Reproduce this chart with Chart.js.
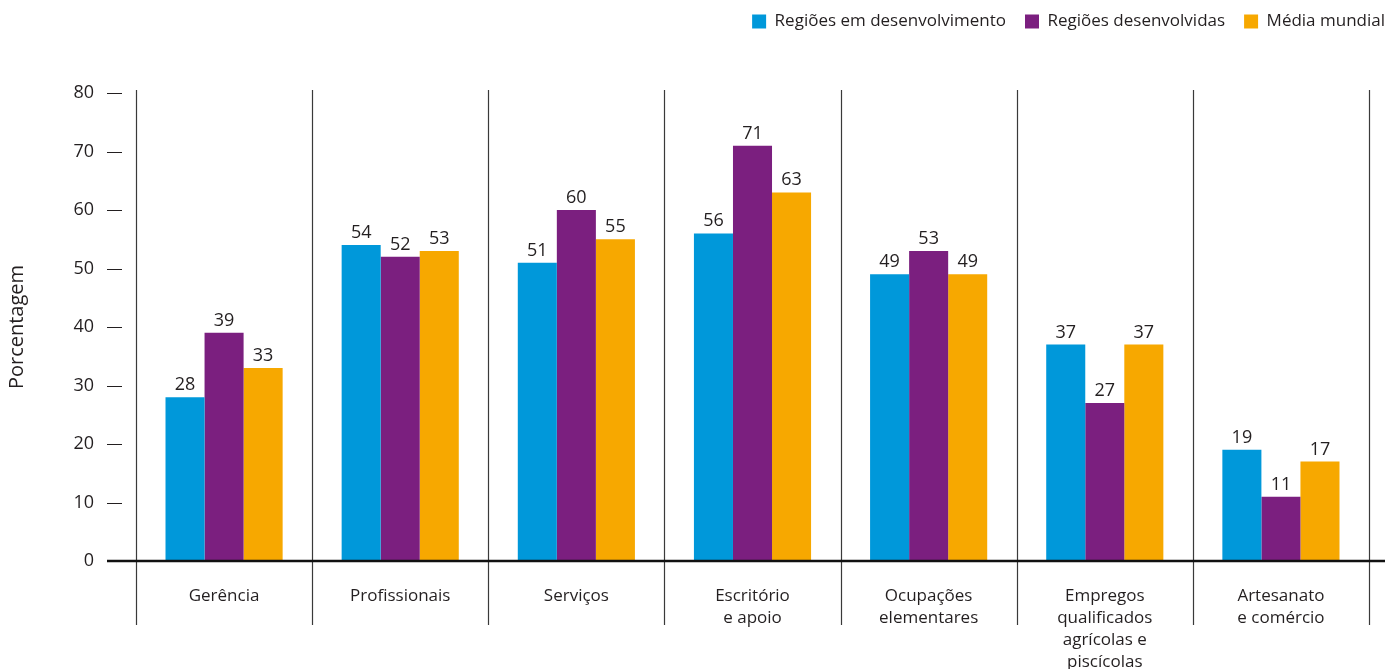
<!DOCTYPE html>
<html>
<head>
<meta charset="utf-8">
<script src="https://cdn.jsdelivr.net/npm/chart.js@4.4.1/dist/chart.umd.min.js"></script>
<style>
  html, body { margin: 0; padding: 0; background: #fff; }
  #wrap { width: 1399px; height: 669px; position: relative; }
</style>
</head>
<body>
<div id="wrap"><canvas id="c"></canvas></div>
<script>
// Occupation groups (multi-line labels)
const categories = [
  ['Gerência'],
  ['Profissionais'],
  ['Serviços'],
  ['Escritório', 'e apoio'],
  ['Ocupações', 'elementares'],
  ['Empregos', 'qualificados', 'agrícolas e', 'piscícolas'],
  ['Artesanato', 'e comércio']
];
const seriesNames = ['Regiões em desenvolvimento', 'Regiões desenvolvidas', 'Média mundial'];
const developingRegions = [28, 54, 51, 56, 49, 37, 19];
const developedRegions  = [39, 52, 60, 71, 53, 27, 11];
const worldAverage      = [33, 53, 55, 63, 49, 37, 17];
const yTicks = [0, 10, 20, 30, 40, 50, 60, 70, 80];
const yTitle = 'Porcentagem';

const seriesColors = ['#0098DA', '#7B1F7F', '#F7A800'];
const FONT = "'Open Sans', 'DejaVu Sans', sans-serif";
const TEXT = '#231F20';

// Category separators, y tick marks, heavy zero line and value labels
const decorations = {
  id: 'decorations',
  beforeInit(chart) {
    const legend = chart.legend;
    const fit = legend.fit;
    legend.fit = function () {
      fit.call(this);
      this.height = 93;
    };
  },
  afterLayout(chart) {
    const lg = chart.legend;
    const dx = chart.chartArea.right + 16 + lg.options.labels.padding - lg.right;
    lg.left += dx;
    lg.right += dx;
    lg.top -= 6;
  },
  beforeDatasetsDraw(chart) {
    const { ctx, chartArea, scales } = chart;
    const xs = scales.x, ys = scales.y;
    const step = xs.getPixelForValue(1) - xs.getPixelForValue(0);
    ctx.save();
    ctx.strokeStyle = '#3a3a3a';
    ctx.lineWidth = 1.2;
    for (let i = 0; i <= categories.length; i++) {
      const x = Math.round(xs.getPixelForValue(i) - step / 2) + 0.5;
      ctx.beginPath();
      ctx.moveTo(x, chartArea.top - 3);
      ctx.lineTo(x, chartArea.bottom + 64);
      ctx.stroke();
    }
    // y tick marks, set off from the plot
    ctx.strokeStyle = TEXT;
    ctx.lineWidth = 1;
    yTicks.forEach(v => {
      if (v === 0) return;
      const y = Math.round(ys.getPixelForValue(v)) + 0.5;
      ctx.beginPath();
      ctx.moveTo(chartArea.left - 29, y);
      ctx.lineTo(chartArea.left - 14, y);
      ctx.stroke();
    });
    ctx.restore();
  },
  afterDatasetsDraw(chart) {
    const { ctx, chartArea, scales } = chart;
    const ys = scales.y;
    ctx.save();
    // baseline
    const y0 = ys.getPixelForValue(0);
    ctx.strokeStyle = '#111';
    ctx.lineWidth = 2.6;
    ctx.beginPath();
    ctx.moveTo(chartArea.left - 29, y0);
    ctx.lineTo(chartArea.right + 16, y0);
    ctx.stroke();
    // value labels
    ctx.fillStyle = TEXT;
    ctx.font = '18px ' + FONT;
    ctx.textAlign = 'center';
    ctx.textBaseline = 'alphabetic';
    chart.data.datasets.forEach((ds, di) => {
      const meta = chart.getDatasetMeta(di);
      meta.data.forEach((bar, i) => {
        ctx.fillText(String(ds.data[i]), bar.x, bar.y - 7);
      });
    });
    ctx.restore();
  }
};

new Chart(document.getElementById('c'), {
  type: 'bar',
  data: {
    labels: categories,
    datasets: [
      { label: seriesNames[0], data: developingRegions, backgroundColor: seriesColors[0] },
      { label: seriesNames[1], data: developedRegions,  backgroundColor: seriesColors[1] },
      { label: seriesNames[2], data: worldAverage,      backgroundColor: seriesColors[2] }
    ]
  },
  options: {
    responsive: true,
    maintainAspectRatio: false,
    animation: false,
    layout: { padding: { left: 0, right: 30, top: 0, bottom: 0 } },
    datasets: {
      bar: { categoryPercentage: 0.665, barPercentage: 1, borderWidth: 0 }
    },
    plugins: {
      legend: {
        position: 'top',
        align: 'end',
        labels: {
          boxWidth: 14,
          boxHeight: 14,
          padding: 19,
          color: TEXT,
          font: { family: FONT, size: 17 }
        }
      },
      tooltip: { enabled: false }
    },
    scales: {
      x: {
        grid: { display: false },
        border: { display: false },
        ticks: {
          padding: 16,
          color: TEXT,
          maxRotation: 0,
          autoSkip: false,
          font: { family: FONT, size: 17, lineHeight: '22px' }
        },
        afterFit(scale) { scale.height = 108; }
      },
      y: {
        min: 0,
        max: 80,
        afterBuildTicks(scale) { scale.ticks = yTicks.map(v => ({ value: v })); },
        grid: { display: false, drawTicks: false },
        border: { display: false },
        ticks: {
          padding: 42,
          color: TEXT,
          font: { family: FONT, size: 18 }
        },
        title: {
          display: true,
          text: yTitle,
          color: TEXT,
          padding: { top: 5, bottom: 0 },
          font: { family: FONT, size: 20 }
        },
        afterFit(scale) { scale.width = 136; }
      }
    }
  },
  plugins: [decorations]
});
</script>
</body>
</html>
